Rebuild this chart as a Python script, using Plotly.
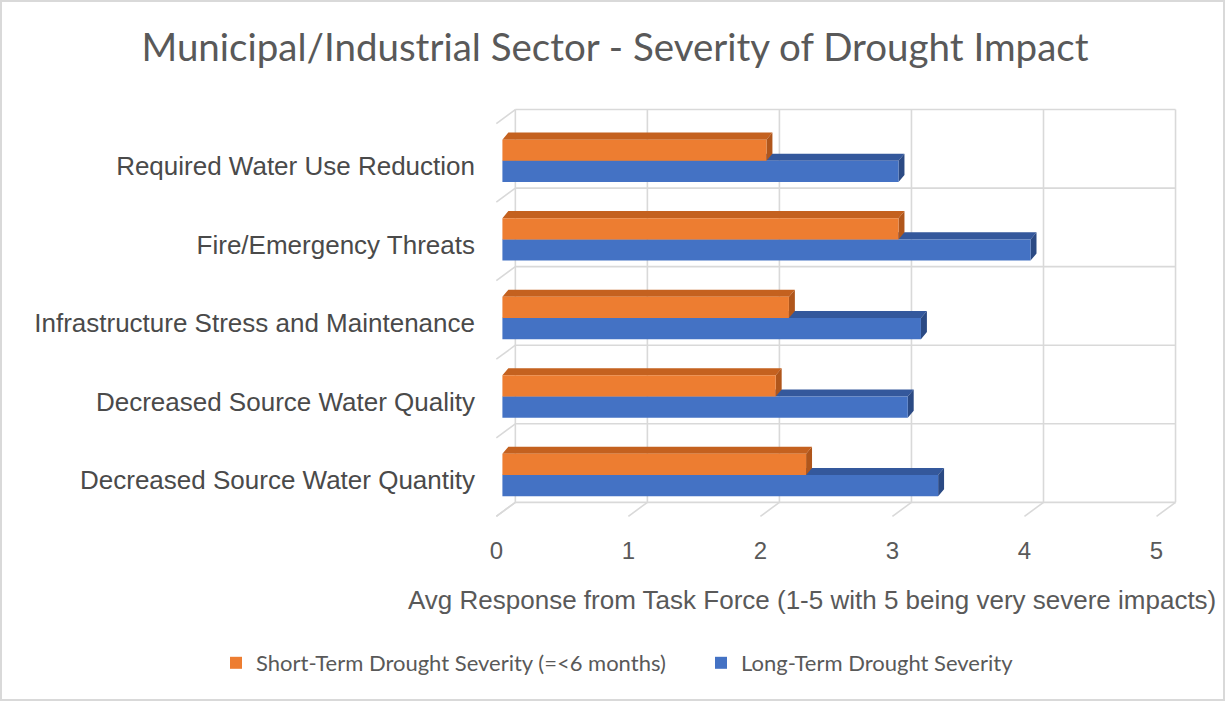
import plotly.graph_objects as go

# ---- data -------------------------------------------------------------
categories = [
    "Required Water Use Reduction",
    "Fire/Emergency Threats",
    "Infrastructure Stress and Maintenance",
    "Decreased Source Water Quality",
    "Decreased Source Water Quantity",
]
short_term = [2.0, 3.0, 2.17, 2.07, 2.3]
long_term = [3.0, 4.0, 3.17, 3.07, 3.3]
x_ticks = [0, 1, 2, 3, 4, 5]

short_name = "Short-Term Drought Severity (=<6 months)"
long_name = "Long-Term Drought Severity"

# ---- oblique 3-D geometry (in data units) ------------------------------
positions = list(range(len(categories)))[::-1]   # first category on top
BAR_W = 0.27                        # thickness of one bar
DEPTH_X, DEPTH_Y = 0.045, 0.09      # depth of each bar block
WALL_X, WALL_Y = 0.098, 0.153       # back wall relative to bar fronts
FLOOR_X, FLOOR_Y = -0.144, -0.178   # floor front edge relative to back wall

GRID = "#D9D9D9"
TXT = "#595959"

W, H = 1225, 702
ML, MR, MT, MB = 476, 36, 98, 168
PW, PH = W - ML - MR, H - MT - MB


def px_x(p):
    return (p - ML) / PW


def px_y(p):
    return (H - MB - p) / PH


def faces(values, offset):
    tx, ty, sx, sy = [], [], [], []
    for v, p in zip(values, positions):
        y0 = p + offset
        y1 = y0 + BAR_W
        tx += [0, v, v + DEPTH_X, DEPTH_X, 0, None]
        ty += [y1, y1, y1 + DEPTH_Y, y1 + DEPTH_Y, y1, None]
        sx += [v, v, v + DEPTH_X, v + DEPTH_X, v, None]
        sy += [y0, y1, y1 + DEPTH_Y, y0 + DEPTH_Y, y0, None]
    return tx, ty, sx, sy


fig = go.Figure()

# ---- back wall, floor and side wall lines ------------------------------
lo, hi = x_ticks[0], x_ticks[-1]
y_bot = min(positions) - 0.5 + WALL_Y
y_top = max(positions) + 0.5 + WALL_Y
gx, gy = [], []
for t in x_ticks:
    gx += [t + WALL_X, t + WALL_X, None]
    gy += [y_bot, y_top, None]
    gx += [t + WALL_X, t + WALL_X + FLOOR_X, None]
    gy += [y_bot, y_bot + FLOOR_Y, None]
for k in range(len(categories) + 1):
    yb = min(positions) - 0.5 + k + WALL_Y
    gx += [lo + WALL_X, hi + WALL_X, None]
    gy += [yb, yb, None]
    gx += [lo + WALL_X, lo + WALL_X + FLOOR_X, None]
    gy += [yb, yb + FLOOR_Y, None]
fig.add_trace(go.Scatter(x=gx, y=gy, mode="lines", line=dict(color=GRID, width=1.6),
                         hoverinfo="skip", showlegend=False, zorder=0))

series = [
    # name, values, offset, front, top, side, z, rank
    (long_name, long_term, -BAR_W, "#4472C4", "#34589C", "#2B4A84", 1, 2),
    (short_name, short_term, 0.0, "#ED7D31", "#C4611F", "#B0561B", 3, 1),
]
for name, vals, off, front, top, side, z, rank in series:
    tx, ty, sx, sy = faces(vals, off)
    fig.add_trace(go.Scatter(x=tx, y=ty, mode="lines", fill="toself", fillcolor=top,
                             line=dict(width=0, color=top), hoverinfo="skip",
                             showlegend=False, zorder=z))
    fig.add_trace(go.Scatter(x=sx, y=sy, mode="lines", fill="toself", fillcolor=side,
                             line=dict(width=0, color=side), hoverinfo="skip",
                             showlegend=False, zorder=z))
    fig.add_trace(go.Bar(x=vals, y=positions, orientation="h", name=name,
                         width=BAR_W, offset=off, base=0,
                         marker=dict(color=front, line=dict(width=0)),
                         legendrank=rank, zorder=z + 1))

fig.update_layout(
    width=W, height=H,
    margin=dict(l=ML, r=MR, t=MT, b=MB),
    paper_bgcolor="white", plot_bgcolor="white",
    barmode="overlay",
    font=dict(family="Liberation Sans, Arial, sans-serif", color=TXT),
    title=dict(text="Municipal/Industrial Sector - Severity of Drought Impact",
               font=dict(family="Lato, sans-serif", size=38.5, color=TXT),
               x=615 / W, xref="container", xanchor="center",
               y=1 - 48 / H, yref="container", yanchor="middle"),
    xaxis=dict(range=[-0.2, 5.2], showgrid=False, zeroline=False, showline=False,
               tickvals=[t + WALL_X + FLOOR_X for t in x_ticks],
               ticktext=[str(t) for t in x_ticks],
               tickfont=dict(size=24, color=TXT), ticks=""),
    yaxis=dict(range=[-0.75, 4.8], showgrid=False, zeroline=False, showline=False,
               tickvals=[p + WALL_Y + FLOOR_Y - 0.04 for p in positions],
               ticktext=categories,
               tickfont=dict(size=26, color="#4A4A4A"), ticks=""),
    legend=dict(orientation="h", x=px_x(216), xanchor="left",
                y=px_y(663), yanchor="middle",
                font=dict(family="Lato, sans-serif", size=22, color=TXT),
                entrywidth=440, entrywidthmode="pixels",
                bgcolor="rgba(0,0,0,0)"),
    annotations=[dict(text="Avg Response from Task Force (1-5 with 5 being very severe impacts)",
                      xref="paper", yref="paper", x=px_x(1218), y=px_y(600),
                      xanchor="right", yanchor="middle", showarrow=False,
                      font=dict(size=26, color=TXT))],
    shapes=[dict(type="rect", xref="paper", yref="paper",
                 x0=px_x(1), x1=px_x(1224), y0=px_y(700), y1=px_y(1),
                 line=dict(color=GRID, width=2))],
)

fig.write_html("out.html")
